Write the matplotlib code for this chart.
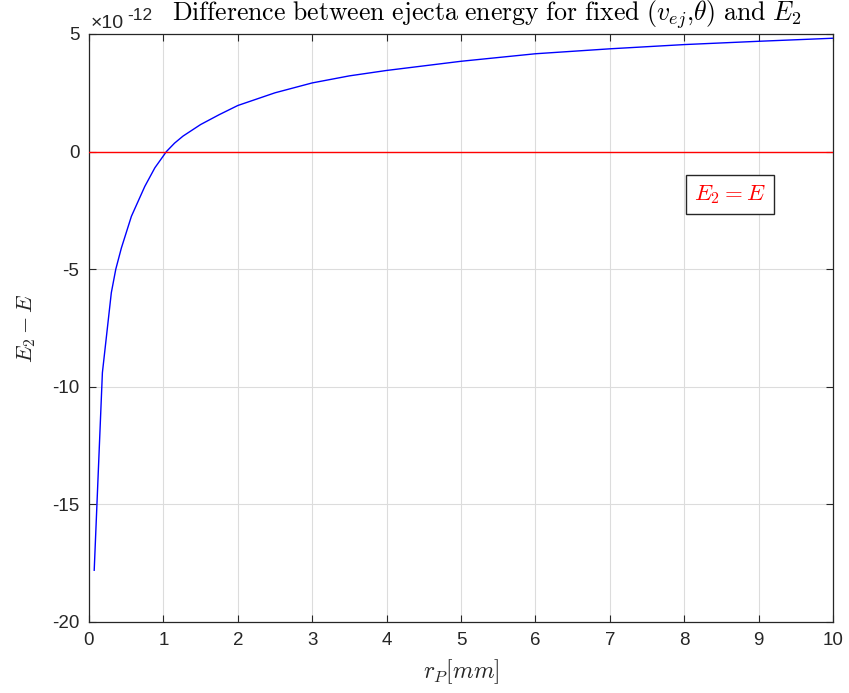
import matplotlib
matplotlib.use("Agg")
import matplotlib.pyplot as plt

plt.rcParams['font.family'] = ['Liberation Sans', 'DejaVu Sans']
plt.rcParams['mathtext.fontset'] = 'cm'
plt.rcParams['axes.unicode_minus'] = False

# values (y in units of 1e-12)
r_p = [0.07, 0.18, 0.30, 0.36, 0.435, 0.57, 0.75, 0.885, 1.0, 1.04, 1.15, 1.264,
       1.5, 1.75, 2.0, 2.5, 3.0, 3.5, 4.0, 5.0, 6.0, 7.0, 8.0, 9.0, 10.0]
dE = [-17.8, -9.4, -6.0, -5.0, -4.1, -2.75, -1.48, -0.69, -0.18, 0.0, 0.36, 0.66,
      1.15, 1.57, 1.96, 2.5, 2.92, 3.22, 3.45, 3.84, 4.16, 4.37, 4.55, 4.69, 4.82]
x_ticks = list(range(0, 11))
y_ticks = [-20, -15, -10, -5, 0, 5]

dark = '#262626'
fig = plt.figure(figsize=(8.49, 6.93), dpi=100)
ax = fig.add_axes([89/849, 1-622/693, (833-89)/849, (622-34)/693])

ax.plot(r_p, dE, color='blue', lw=1.0, zorder=3)
ax.axhline(0, color='red', lw=1.0, zorder=3)

ax.set_xlim(0, 10)
ax.set_ylim(-20, 5)
ax.set_xticks(x_ticks)
ax.set_yticks(y_ticks)

ax.grid(True, color='#dcdcdc', lw=0.8)
ax.set_axisbelow(True)
ax.tick_params(direction='in', top=True, right=True, length=5, labelsize=13.5,
               colors=dark, width=0.8, pad=7)
for s in ax.spines.values():
    s.set_color(dark)
    s.set_linewidth(0.9)

# exponent label as drawn by MATLAB
fig.text(91/849, 1-28/693, '×10', fontsize=14, color=dark, va='baseline')
fig.text(127/849, 1-20/693, '-12', fontsize=12.5, color=dark, va='baseline')

ax.text(8.62, -1.83, r'$E_2 = E$', color='red', fontsize=16.5,
        ha='center', va='center',
        bbox=dict(boxstyle='square,pad=0.35', fc='white', ec=dark, lw=1.0))

ax.set_xlabel(r'$r_P[mm]$', fontsize=17, color=dark, labelpad=6)
ax.set_ylabel(r'$E_2 - E$', fontsize=16, color=dark, labelpad=10)
fig.text(487/849, 1-15/693,
         r'$\mathrm{Difference\ between\ ejecta\ energy\ for\ fixed\ }(v_{ej}{,}\theta)\mathrm{\ and\ }E_2$',
         fontsize=18.6, ha='center', va='center', color='black')

fig.savefig('out.png', dpi=100, facecolor='white')
